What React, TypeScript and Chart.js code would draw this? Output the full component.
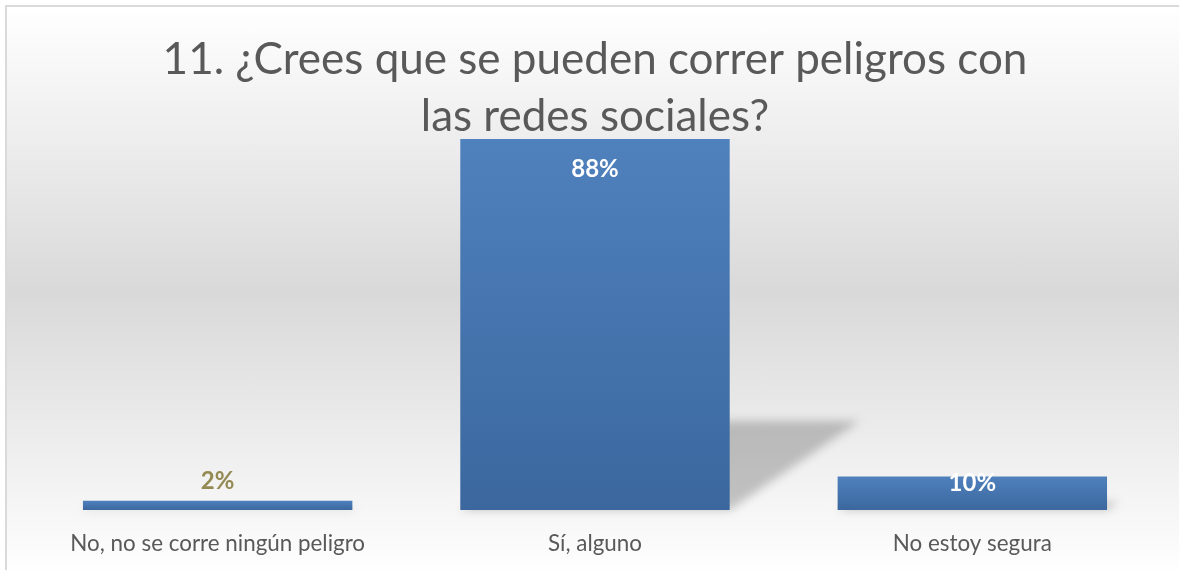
import React, { useEffect, useRef } from "react";
import { Chart, registerables } from "chart.js";

Chart.register(...registerables);

// ---- data ----
const categories = ["No, no se corre ningún peligro", "Sí, alguno", "No estoy segura"];
const values = [2.2, 88, 8];
const valueLabels = ["2%", "88%", "10%"];
const titleLines = ["11. ¿Crees que se pueden correr peligros con", "las redes sociales?"];
const yMax = 88;

const TEXT_GRAY = "#595959";
const FONT = "Lato, 'Open Sans', sans-serif";

const shadowPlugin = {
  id: "perspectiveShadow",
  beforeDatasetsDraw(chart: any) {
    const ctx = chart.ctx;
    const meta = chart.getDatasetMeta(0);
    ctx.save();
    ctx.filter = "blur(5px)";
    ctx.fillStyle = "rgba(0,0,0,0.21)";
    meta.data.forEach((bar: any) => {
      const { x, y, base, width } = bar.getProps(["x", "y", "base", "width"], true);
      const left = x - width / 2;
      const right = x + width / 2;
      const h = base - y;
      ctx.beginPath();
      ctx.moveTo(left, base);
      ctx.lineTo(right, base);
      ctx.lineTo(right + h * 0.35, base - h * 0.24);
      ctx.lineTo(left + h * 0.35, base - h * 0.24);
      ctx.closePath();
      ctx.fill();
    });
    ctx.restore();
  },
};

const labelPlugin = {
  id: "valueLabels",
  afterDatasetsDraw(chart: any) {
    const ctx = chart.ctx;
    const meta = chart.getDatasetMeta(0);
    ctx.save();
    ctx.font = `bold 24px ${FONT}`;
    ctx.textAlign = "center";
    ctx.textBaseline = "alphabetic";
    meta.data.forEach((bar: any, i: number) => {
      const { x, y, base } = bar.getProps(["x", "y", "base"], true);
      const h = base - y;
      let ty: number;
      if (h < 20) {
        ctx.fillStyle = "#948A54";
        ty = y - 12;
      } else if (h < 60) {
        ctx.fillStyle = "#ffffff";
        ty = y + 15;
      } else {
        ctx.fillStyle = "#ffffff";
        ty = y + 38;
      }
      ctx.fillText(valueLabels[i], x, ty);
    });
    ctx.restore();
  },
};

const titlePlugin = {
  id: "titleText",
  afterDraw(chart: any) {
    const ctx = chart.ctx;
    const cx = (chart.chartArea.left + chart.chartArea.right) / 2;
    ctx.save();
    ctx.font = `44px ${FONT}`;
    ctx.fillStyle = TEXT_GRAY;
    ctx.textAlign = "center";
    ctx.textBaseline = "alphabetic";
    ctx.fillText(titleLines[0], cx, 74);
    ctx.fillText(titleLines[1], cx, 131);
    ctx.restore();
  },
};

export default function App() {
  const ref = useRef<HTMLCanvasElement | null>(null);

  useEffect(() => {
    if (!ref.current) return;
    const chart = new Chart(ref.current, {
      type: "bar",
      data: {
        labels: categories,
        datasets: [
          {
            data: values,
            backgroundColor: (c: any) => {
              const chart = c.chart;
              if (!chart.chartArea || c.raw == null) return "#4a7ab4";
              const ys = chart.scales.y;
              const top = ys.getPixelForValue(c.raw);
              const base = ys.getPixelForValue(0);
              if (!isFinite(top) || !isFinite(base) || base - top < 1) return "#4a7ab4";
              const g = chart.ctx.createLinearGradient(0, top, 0, base);
              g.addColorStop(0, "#4f81bd");
              g.addColorStop(1, "#3b679e");
              return g;
            },
            borderWidth: 0,
            barPercentage: 0.714,
            categoryPercentage: 1,
          },
        ],
      },
      options: {
        animation: false,
        responsive: false,
        layout: { padding: { left: 29, right: 18, top: 139, bottom: 23 } },
        plugins: {
          legend: { display: false },
          title: { display: false },
          tooltip: { enabled: false },
        },
        scales: {
          x: {
            grid: { display: false, drawTicks: false },
            border: { display: false },
            ticks: {
              color: TEXT_GRAY,
              font: { family: FONT, size: 22.4 },
              padding: 20,
              maxRotation: 0,
              autoSkip: false,
            },
          },
          y: {
            display: false,
            min: 0,
            max: yMax,
          },
        },
      },
      plugins: [shadowPlugin, labelPlugin, titlePlugin],
    });
    return () => chart.destroy();
  }, []);

  return (
    <div style={{ position: "absolute", left: 0, top: 0, width: 1179, height: 570, overflow: "hidden" }}>
      <div
        style={{
          position: "absolute",
          left: 5,
          top: 5,
          width: 1200,
          height: 600,
          boxSizing: "border-box",
          border: "2px solid #dadada",
          background: "linear-gradient(to bottom, #ffffff 0%, #d9d9d9 50%, #ffffff 100%)",
          backgroundSize: "100% 570px",
          backgroundRepeat: "no-repeat",
        }}
      />
      <canvas
        ref={ref}
        width={1179}
        height={600}
        style={{ position: "absolute", left: 0, top: 0, width: 1179, height: 600, display: "block" }}
      />
    </div>
  );
}
